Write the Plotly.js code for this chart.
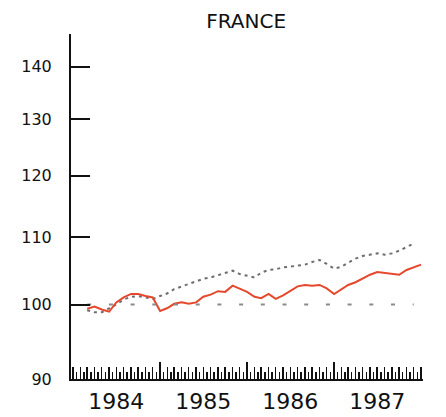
<!DOCTYPE html>
<html>
<head>
<meta charset="utf-8">
<script src="https://cdn.plot.ly/plotly-3.0.1.min.js"></script>
<style>html,body{margin:0;padding:0;background:#fff;}#chart{width:446px;height:417px;}</style>
</head>
<body>
<div id="chart"></div>
<script>
// Monthly index values, March 1984 onwards
const months = ["1984-03","1984-04","1984-05","1984-06","1984-07","1984-08","1984-09","1984-10","1984-11","1984-12",
"1985-01","1985-02","1985-03","1985-04","1985-05","1985-06","1985-07","1985-08","1985-09","1985-10","1985-11","1985-12",
"1986-01","1986-02","1986-03","1986-04","1986-05","1986-06","1986-07","1986-08","1986-09","1986-10","1986-11","1986-12",
"1987-01","1987-02","1987-03","1987-04","1987-05","1987-06","1987-07","1987-08","1987-09","1987-10","1987-11","1987-12","1988-01"];
const seriesSolid = [99.4,99.7,99.3,99.0,100.3,101.0,101.5,101.5,101.2,101.0,
99.1,99.5,100.1,100.3,100.1,100.3,101.1,101.4,101.9,101.8,102.7,102.2,
101.8,101.1,100.9,101.5,100.8,101.3,101.9,102.6,102.8,102.7,102.8,102.3,
101.5,102.2,102.8,103.2,103.8,104.3,104.7,104.6,104.4,104.3,105.0,105.4,105.8];
const seriesDotted = [99.2,98.9,98.9,99.4,100.0,100.7,101.1,101.2,101.0,100.8,
101.2,101.6,102.2,102.6,103.0,103.3,103.7,103.9,104.2,104.5,104.9,104.4,
104.1,103.9,104.6,105.0,105.1,105.4,105.5,105.6,105.8,106.2,106.5,105.9,
105.2,105.5,106.1,106.7,107.1,107.3,107.5,107.3,107.5,107.9,108.5,109.0];
const baseValue = 100;
const yTicks = [90,100,110,120,130,140];
const yearStarts = ["1985-01-01","1986-01-01","1987-01-01"];
const yearMids = ["1984-07-01","1985-07-01","1986-07-01","1987-07-01"];
const yearLabels = ["1984","1985","1986","1987"];

const dottedMonths = months.slice(0, seriesDotted.length);
const traces = [
  {x: dottedMonths, y: dottedMonths.map(() => baseValue), xaxis:'x2', yaxis:'y', type:'scatter', mode:'lines',
   line:{color:'#8a8a8a', width:2, dash:'0px,0px,4px,17.7px'}, hoverinfo:'skip'},
  {x: dottedMonths, y: seriesDotted, type:'scatter', mode:'lines',
   line:{color:'#6e6e6e', width:2, dash:'3px,4px'}},
  {x: months, y: seriesSolid, type:'scatter', mode:'lines',
   line:{color:'#e5482c', width:2}}
];
const xr = ["1983-12-24","1988-01-09"];
const font = {family:'DejaVu Sans, sans-serif', color:'#111'};
const layout = {
  width:446, height:417,
  margin:{l:71, r:23, t:34, b:38},
  paper_bgcolor:'#fff', plot_bgcolor:'#fff',
  showlegend:false,
  title:{text:'FRANCE', font:{family:'DejaVu Sans, sans-serif', size:20, color:'#111'}, x:0.552, xanchor:'center', y:0.95, yanchor:'middle'},
  xaxis:{type:'date', range:xr, showgrid:false, zeroline:false,
    showline:true, linecolor:'#111', linewidth:2,
    tickmode:'array', tickvals:yearMids, ticktext:yearLabels, ticks:'',
    tickfont:Object.assign({size:22}, font), ticklabelstandoff:2,
    minor:{ticks:'inside', tickmode:'linear', tick0:'1984-01-01', dtick:'M1', ticklen:12, tickwidth:1.5, tickcolor:'#111', showgrid:false}},
  xaxis2:{type:'date', range:xr, overlaying:'x', anchor:'y', side:'bottom', showgrid:false, zeroline:false,
    showline:false, tickmode:'array', tickvals:yearStarts, ticks:'inside', ticklen:17, tickwidth:2, tickcolor:'#111',
    showticklabels:false,
    minor:{ticks:'inside', tickmode:'linear', tick0:'1984-01-16', dtick:'M1', ticklen:7, tickwidth:1.5, tickcolor:'#111', showgrid:false}},
  yaxis:{type:'log', range:[Math.log10(90), Math.log10(146.6)], showgrid:false, zeroline:false,
    showline:true, linecolor:'#111', linewidth:2,
    tickmode:'array', tickvals:yTicks, ticktext:yTicks.map(String), ticks:'inside', ticklen:19, tickwidth:2, tickcolor:'#111',
    tickfont:Object.assign({size:16}, font), ticklabelstandoff:14}
};
Plotly.newPlot('chart', traces, layout, {staticPlot:true, displayModeBar:false});
</script>
</body>
</html>
